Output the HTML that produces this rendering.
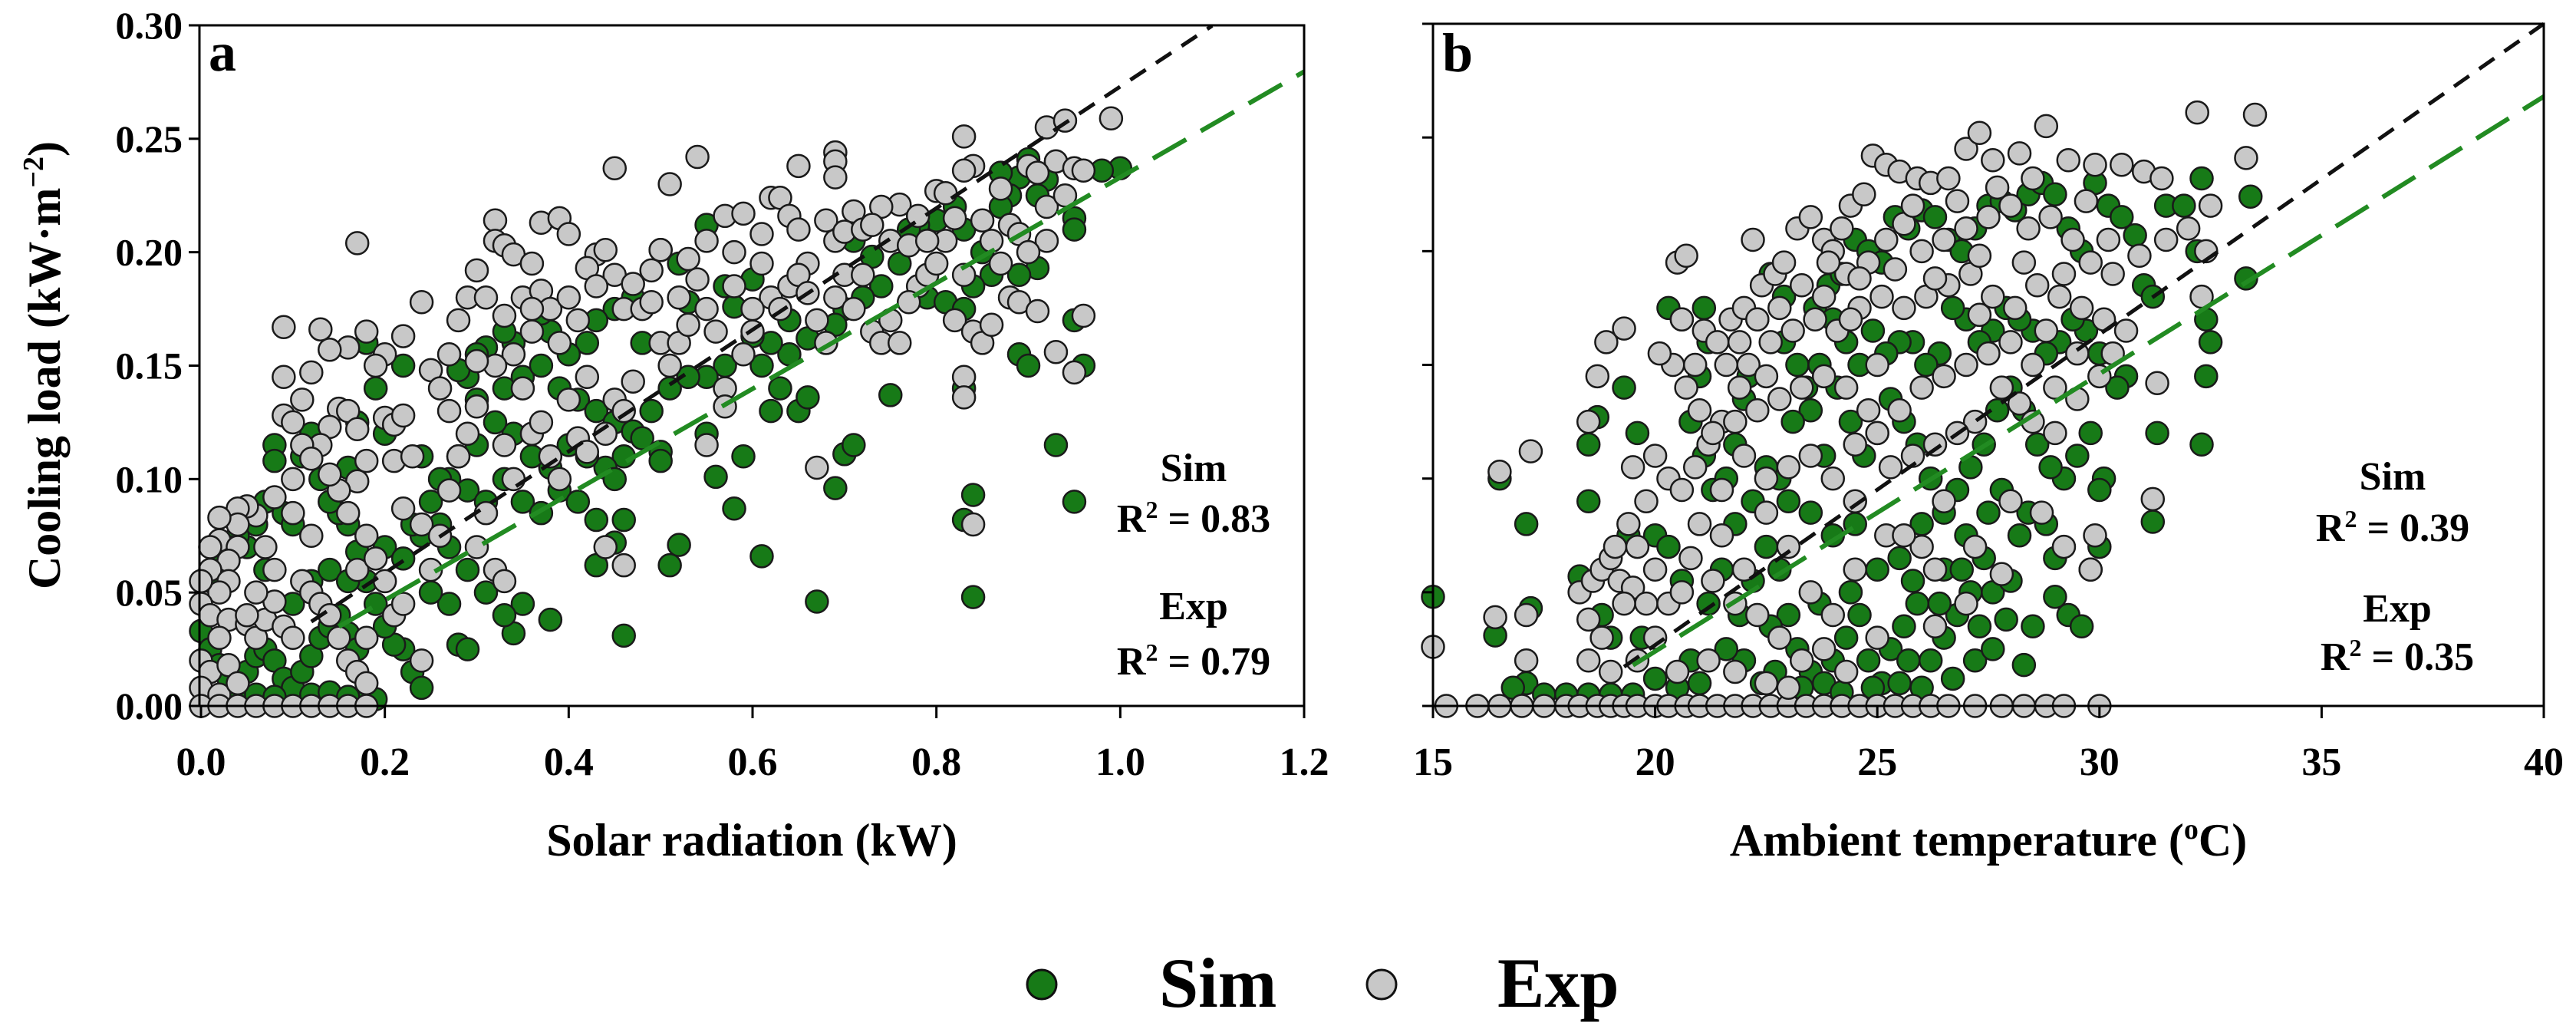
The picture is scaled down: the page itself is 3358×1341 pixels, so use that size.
<!DOCTYPE html>
<html><head><meta charset="utf-8"><style>
html,body{margin:0;padding:0;background:#fff}
svg{display:block}
text{font-family:"Liberation Serif",serif;font-weight:bold;fill:#000}
</style></head><body>
<svg id="chart" xmlns="http://www.w3.org/2000/svg" width="3358" height="1341" viewBox="0 0 3358 1341">
<g id="pa"></g>
<g id="pb"></g>
<g>
<circle cx="1358" cy="1283" r="19" fill="#177a17" stroke="#111" stroke-width="3"/>
<text x="1511" y="1312" font-size="92">Sim</text>
<circle cx="1801" cy="1283" r="19" fill="#c8c8c8" stroke="#111" stroke-width="3"/>
<text x="1952" y="1312" font-size="92">Exp</text>
</g>
</svg>
<script>
const aTicksX=[0,0.2,0.4,0.6,0.8,1.0,1.2];
const aTickLabelsX=["0.0","0.2","0.4","0.6","0.8","1.0","1.2"];
const yTicks=[0,0.05,0.10,0.15,0.20,0.25,0.30];
const yTickLabels=["0.00","0.05","0.10","0.15","0.20","0.25","0.30"];
const bTicksX=[15,20,25,30,35,40];
const bTickLabelsX=["15","20","25","30","35","40"];
const aFitSim=[0.005,0.268,0.12,1.10];
const aFitExp=[0.0,0.233,0.15,1.2];
const bFitSim=[-0.2464,0.01366,19.3,40];
const bFitExp=[-0.2200,0.0122,19.5,40];
const aSim=[[1.0,0.237],[0.98,0.236],[0.95,0.215],[0.95,0.210],[0.96,0.150],[0.95,0.170],[0.93,0.240],[0.92,0.232],[0.90,0.241],[0.89,0.233],[0.88,0.225],[0.87,0.220],[0.91,0.193],[0.89,0.190],[0.86,0.190],[0.85,0.200],[0.83,0.210],[0.82,0.220],[0.80,0.214],[0.78,0.212],[0.77,0.210],[0.79,0.180],[0.81,0.178],[0.83,0.175],[0.84,0.185],[0.89,0.155],[0.90,0.150],[0.83,0.140],[0.93,0.115],[0.84,0.093],[0.83,0.082],[0.84,0.048],[0.95,0.090],[0.76,0.195],[0.74,0.185],[0.72,0.180],[0.70,0.175],[0.69,0.168],[0.68,0.160],[0.66,0.162],[0.64,0.155],[0.62,0.160],[0.60,0.163],[0.61,0.150],[0.63,0.140],[0.65,0.130],[0.66,0.136],[0.62,0.130],[0.57,0.150],[0.55,0.145],[0.57,0.185],[0.58,0.176],[0.60,0.188],[0.55,0.212],[0.52,0.195],[0.50,0.201],[0.47,0.180],[0.45,0.175],[0.43,0.170],[0.42,0.160],[0.40,0.155],[0.38,0.165],[0.37,0.173],[0.34,0.160],[0.33,0.165],[0.31,0.158],[0.30,0.155],[0.29,0.145],[0.28,0.148],[0.30,0.135],[0.33,0.140],[0.35,0.145],[0.37,0.150],[0.39,0.140],[0.41,0.135],[0.43,0.130],[0.45,0.125],[0.47,0.121],[0.49,0.130],[0.51,0.140],[0.53,0.145],[0.55,0.120],[0.50,0.112],[0.48,0.118],[0.46,0.110],[0.44,0.105],[0.42,0.110],[0.40,0.115],[0.38,0.105],[0.36,0.110],[0.34,0.120],[0.32,0.125],[0.30,0.115],[0.28,0.110],[0.27,0.100],[0.29,0.095],[0.31,0.090],[0.33,0.100],[0.35,0.090],[0.37,0.085],[0.39,0.095],[0.41,0.090],[0.43,0.082],[0.45,0.100],[0.46,0.082],[0.45,0.072],[0.43,0.062],[0.46,0.031],[0.51,0.062],[0.52,0.071],[0.56,0.101],[0.58,0.087],[0.59,0.110],[0.61,0.066],[0.67,0.046],[0.69,0.096],[0.70,0.111],[0.71,0.115],[0.75,0.137],[0.50,0.108],[0.38,0.038],[0.35,0.045],[0.34,0.032],[0.33,0.040],[0.31,0.050],[0.29,0.060],[0.28,0.027],[0.29,0.025],[0.27,0.045],[0.25,0.050],[0.23,0.015],[0.24,0.008],[0.22,0.025],[0.21,0.027],[0.20,0.035],[0.19,0.045],[0.18,0.055],[0.17,0.068],[0.16,0.080],[0.15,0.085],[0.14,0.090],[0.13,0.100],[0.12,0.120],[0.11,0.110],[0.08,0.115],[0.08,0.108],[0.07,0.090],[0.06,0.080],[0.07,0.060],[0.05,0.070],[0.04,0.075],[0.03,0.070],[0.02,0.065],[0.01,0.055],[0.00,0.033],[0.01,0.025],[0.02,0.018],[0.03,0.012],[0.04,0.005],[0.05,0.015],[0.06,0.022],[0.07,0.025],[0.08,0.020],[0.09,0.012],[0.10,0.008],[0.11,0.015],[0.12,0.022],[0.13,0.030],[0.14,0.035],[0.15,0.040],[0.16,0.032],[0.17,0.025],[0.18,0.005],[0.19,0.003],[0.10,0.045],[0.12,0.055],[0.14,0.060],[0.16,0.055],[0.20,0.070],[0.22,0.065],[0.24,0.075],[0.23,0.080],[0.25,0.090],[0.26,0.080],[0.27,0.070],[0.19,0.140],[0.20,0.120],[0.18,0.160],[0.22,0.150],[0.17,0.125],[0.16,0.105],[0.09,0.085],[0.10,0.080],[0.06,0.005],[0.08,0.004],[0.12,0.005],[0.14,0.006],[0.16,0.004],[0.64,0.170],[0.71,0.205],[0.73,0.198],[0.87,0.235],[0.91,0.225],[0.53,0.178],[0.48,0.160],[0.26,0.100],[0.24,0.110]];
const aExp=[[0.99,0.259],[0.92,0.255],[0.94,0.258],[0.83,0.251],[0.54,0.242],[0.45,0.237],[0.69,0.244],[0.69,0.240],[0.69,0.233],[0.65,0.238],[0.51,0.230],[0.84,0.238],[0.83,0.236],[0.93,0.240],[0.90,0.238],[0.91,0.235],[0.95,0.237],[0.96,0.236],[0.62,0.224],[0.63,0.224],[0.80,0.227],[0.81,0.226],[0.76,0.221],[0.74,0.220],[0.71,0.218],[0.68,0.214],[0.64,0.216],[0.65,0.210],[0.57,0.216],[0.59,0.217],[0.32,0.214],[0.37,0.213],[0.39,0.215],[0.40,0.208],[0.32,0.205],[0.33,0.203],[0.17,0.204],[0.43,0.199],[0.44,0.201],[0.34,0.199],[0.36,0.195],[0.30,0.192],[0.42,0.193],[0.45,0.190],[0.47,0.186],[0.50,0.201],[0.53,0.197],[0.55,0.205],[0.58,0.200],[0.61,0.208],[0.66,0.195],[0.69,0.205],[0.70,0.209],[0.72,0.210],[0.75,0.205],[0.77,0.203],[0.78,0.216],[0.82,0.215],[0.85,0.214],[0.88,0.212],[0.89,0.208],[0.92,0.205],[0.90,0.200],[0.87,0.195],[0.88,0.180],[0.89,0.178],[0.91,0.174],[0.93,0.156],[0.95,0.147],[0.96,0.172],[0.83,0.190],[0.82,0.170],[0.84,0.165],[0.85,0.160],[0.86,0.168],[0.83,0.145],[0.83,0.136],[0.84,0.080],[0.24,0.178],[0.29,0.180],[0.28,0.170],[0.31,0.180],[0.33,0.172],[0.35,0.180],[0.37,0.183],[0.38,0.175],[0.40,0.180],[0.41,0.170],[0.39,0.160],[0.36,0.165],[0.34,0.155],[0.32,0.150],[0.30,0.152],[0.27,0.155],[0.25,0.148],[0.22,0.163],[0.20,0.155],[0.19,0.150],[0.18,0.165],[0.16,0.158],[0.14,0.157],[0.12,0.147],[0.13,0.166],[0.09,0.167],[0.09,0.145],[0.15,0.131],[0.16,0.130],[0.17,0.122],[0.14,0.123],[0.13,0.115],[0.11,0.115],[0.12,0.109],[0.10,0.100],[0.09,0.128],[0.10,0.125],[0.20,0.127],[0.21,0.124],[0.22,0.128],[0.21,0.108],[0.18,0.108],[0.17,0.099],[0.15,0.095],[0.14,0.102],[0.08,0.092],[0.06,0.084],[0.05,0.088],[0.04,0.087],[0.04,0.080],[0.02,0.083],[0.02,0.073],[0.04,0.070],[0.03,0.064],[0.01,0.060],[0.03,0.055],[0.02,0.050],[0.00,0.045],[0.01,0.040],[0.03,0.038],[0.05,0.036],[0.06,0.030],[0.02,0.030],[0.00,0.020],[0.01,0.015],[0.03,0.018],[0.00,0.008],[0.02,0.005],[0.04,0.010],[0.07,0.038],[0.08,0.046],[0.09,0.035],[0.10,0.030],[0.11,0.055],[0.12,0.050],[0.13,0.045],[0.14,0.040],[0.15,0.030],[0.16,0.020],[0.17,0.015],[0.18,0.010],[0.18,0.030],[0.17,0.060],[0.18,0.075],[0.20,0.055],[0.21,0.040],[0.22,0.087],[0.24,0.080],[0.26,0.075],[0.25,0.060],[0.27,0.095],[0.28,0.110],[0.29,0.120],[0.30,0.132],[0.31,0.085],[0.30,0.070],[0.32,0.060],[0.33,0.055],[0.34,0.100],[0.35,0.140],[0.36,0.120],[0.37,0.125],[0.38,0.110],[0.39,0.100],[0.41,0.118],[0.42,0.112],[0.44,0.120],[0.45,0.135],[0.46,0.130],[0.47,0.143],[0.46,0.175],[0.48,0.175],[0.49,0.178],[0.50,0.160],[0.51,0.150],[0.52,0.160],[0.53,0.168],[0.55,0.175],[0.56,0.165],[0.57,0.140],[0.58,0.185],[0.59,0.155],[0.60,0.165],[0.62,0.180],[0.63,0.175],[0.64,0.185],[0.65,0.190],[0.67,0.170],[0.68,0.160],[0.69,0.180],[0.70,0.190],[0.71,0.175],[0.73,0.165],[0.74,0.160],[0.75,0.170],[0.76,0.160],[0.78,0.185],[0.79,0.190],[0.80,0.195],[0.81,0.205],[0.55,0.115],[0.57,0.132],[0.46,0.062],[0.44,0.070],[0.67,0.105],[0.24,0.020],[0.22,0.045],[0.19,0.065],[0.16,0.085],[0.12,0.075],[0.10,0.085],[0.08,0.060],[0.06,0.050],[0.05,0.040],[0.00,0],[0.02,0],[0.04,0],[0.06,0],[0.08,0],[0.10,0],[0.12,0],[0.14,0],[0.16,0],[0.18,0],[0.36,0.175],[0.43,0.185],[0.49,0.192],[0.54,0.188],[0.61,0.195],[0.66,0.182],[0.72,0.190],[0.77,0.178],[0.79,0.205],[0.86,0.205],[0.92,0.220],[0.94,0.225],[0.87,0.228],[0.73,0.212],[0.60,0.175],[0.52,0.180],[0.42,0.145],[0.40,0.135],[0.33,0.115],[0.27,0.130],[0.23,0.110],[0.26,0.140],[0.11,0.135],[0.07,0.070],[0.01,0.070],[0.00,0.055]];
const bSim=[[15.0,0.048],[16.4,0.031],[16.5,0.100],[17.1,0.080],[17.2,0.043],[17.1,0.010],[16.8,0.008],[17.5,0.005],[18.3,0.057],[18.5,0.115],[18.7,0.127],[18.5,0.090],[18.8,0.040],[19.0,0.030],[19.3,0.140],[19.6,0.120],[19.4,0.075],[19.7,0.030],[20.0,0.075],[20.3,0.070],[20.6,0.055],[20.3,0.175],[20.6,0.170],[21.1,0.175],[21.2,0.160],[21.0,0.145],[20.8,0.125],[21.1,0.110],[21.3,0.095],[21.6,0.100],[21.8,0.115],[22.0,0.135],[22.3,0.170],[22.6,0.190],[22.9,0.180],[22.1,0.145],[21.8,0.080],[21.5,0.060],[21.2,0.045],[21.9,0.040],[22.2,0.055],[22.5,0.070],[22.8,0.060],[23.0,0.040],[23.2,0.025],[23.5,0.015],[23.8,0.010],[24.0,0.020],[24.3,0.030],[24.6,0.040],[24.8,0.020],[25.1,0.010],[25.3,0.025],[25.6,0.035],[25.9,0.045],[26.2,0.020],[26.5,0.030],[26.8,0.040],[27.1,0.050],[27.3,0.035],[27.6,0.050],[28.2,0.075],[28.3,0.018],[28.0,0.055],[28.4,0.085],[28.8,0.080],[29.0,0.065],[29.3,0.040],[29.6,0.035],[29.8,0.060],[30.0,0.070],[30.1,0.100],[29.8,0.120],[29.5,0.110],[29.2,0.100],[28.9,0.105],[28.6,0.115],[28.3,0.130],[28.0,0.140],[27.7,0.130],[27.4,0.115],[27.1,0.105],[26.8,0.095],[26.5,0.085],[26.2,0.100],[25.9,0.115],[25.6,0.125],[25.3,0.135],[25.0,0.120],[24.7,0.110],[24.4,0.125],[24.1,0.140],[23.8,0.110],[23.5,0.130],[23.2,0.150],[22.9,0.160],[23.6,0.175],[23.9,0.185],[24.2,0.190],[24.5,0.205],[24.8,0.200],[25.1,0.195],[25.4,0.215],[25.7,0.210],[26.0,0.218],[26.3,0.215],[26.6,0.205],[26.9,0.200],[27.2,0.210],[27.5,0.220],[27.8,0.222],[28.1,0.218],[28.4,0.225],[28.7,0.230],[29.0,0.225],[29.3,0.210],[29.6,0.200],[29.9,0.230],[30.2,0.220],[30.5,0.215],[30.8,0.207],[31.0,0.185],[31.2,0.180],[31.5,0.220],[31.9,0.220],[32.3,0.232],[32.2,0.200],[32.4,0.170],[32.5,0.160],[32.4,0.145],[32.3,0.115],[33.3,0.188],[33.4,0.224],[31.3,0.120],[31.2,0.081],[30.6,0.145],[30.4,0.140],[30.0,0.155],[29.7,0.165],[29.4,0.170],[29.1,0.160],[28.8,0.155],[28.5,0.165],[28.2,0.170],[27.9,0.175],[27.6,0.165],[27.3,0.160],[27.0,0.170],[26.7,0.175],[26.4,0.155],[26.1,0.150],[25.8,0.160],[25.5,0.160],[25.2,0.155],[24.9,0.165],[24.6,0.150],[24.3,0.160],[24.0,0.170],[23.7,0.150],[23.4,0.140],[23.1,0.125],[22.8,0.100],[22.5,0.105],[22.2,0.090],[22.0,0.020],[22.4,0.010],[21.0,0.010],[20.5,0.008],[20.0,0.012],[19.5,0.005],[19.0,0.005],[18.5,0.005],[18.0,0.005],[25.0,0.060],[25.5,0.065],[26.0,0.080],[26.5,0.060],[27.0,0.075],[27.5,0.085],[24.5,0.080],[24.0,0.075],[23.5,0.085],[23.0,0.090],[27.8,0.095],[28.5,0.035],[30.0,0.095],[29.0,0.048],[27.9,0.038],[22.7,0.015],[23.3,0.008],[24.2,0.006],[24.9,0.008],[25.5,0.010],[26.0,0.008],[26.7,0.012],[27.2,0.020],[27.6,0.025],[26.4,0.045],[25.8,0.055],[24.4,0.050],[23.7,0.045],[22.6,0.035],[21.6,0.025],[20.8,0.020],[25.7,0.020],[26.9,0.060],[27.4,0.065]];
const bExp=[[15.3,0],[16,0],[16.5,0],[17,0],[17.5,0],[18,0],[18.3,0],[18.7,0],[19,0],[19.3,0],[19.6,0],[20,0],[20.3,0],[20.7,0],[21,0],[21.4,0],[21.8,0],[22.2,0],[22.6,0],[23,0],[23.4,0],[23.8,0],[24.2,0],[24.6,0],[25,0],[25.4,0],[25.8,0],[26.2,0],[26.6,0],[27.2,0],[27.8,0],[28.3,0],[28.8,0],[29.2,0],[30,0],[15,0.026],[16.4,0.039],[16.5,0.103],[17.1,0.040],[17.2,0.112],[17.1,0.020],[18.5,0.125],[18.7,0.145],[19.3,0.166],[18.9,0.160],[18.5,0.038],[18.3,0.050],[18.6,0.055],[18.8,0.060],[19.0,0.065],[19.2,0.055],[19.5,0.052],[19.8,0.045],[19.3,0.045],[18.8,0.030],[18.5,0.020],[19.0,0.015],[19.6,0.020],[20.0,0.030],[20.3,0.045],[20.6,0.050],[19.1,0.070],[19.4,0.080],[19.8,0.090],[19.5,0.105],[20.0,0.110],[20.3,0.100],[20.6,0.095],[20.9,0.105],[21.2,0.115],[21.5,0.125],[21.0,0.130],[20.7,0.140],[20.4,0.150],[20.1,0.155],[20.6,0.170],[20.5,0.195],[20.7,0.198],[21.1,0.165],[21.4,0.160],[21.7,0.170],[22.0,0.175],[22.2,0.205],[22.4,0.185],[22.7,0.190],[22.9,0.195],[23.2,0.210],[23.5,0.215],[23.8,0.205],[24.0,0.200],[24.2,0.210],[24.4,0.220],[24.7,0.225],[24.9,0.242],[25.2,0.238],[25.5,0.235],[25.9,0.232],[26.2,0.230],[26.6,0.232],[27.0,0.245],[27.3,0.252],[27.6,0.240],[28.2,0.243],[28.8,0.255],[29.3,0.240],[29.9,0.238],[30.5,0.238],[31.0,0.235],[31.4,0.232],[32.2,0.261],[33.5,0.260],[33.3,0.241],[32.5,0.220],[32.4,0.200],[32.0,0.210],[31.5,0.205],[30.9,0.198],[30.3,0.190],[29.8,0.195],[29.4,0.205],[28.9,0.215],[28.4,0.210],[28.0,0.220],[27.5,0.215],[27.0,0.210],[26.5,0.205],[26.0,0.200],[25.6,0.212],[25.2,0.205],[24.8,0.195],[24.3,0.190],[23.8,0.180],[23.3,0.185],[22.8,0.175],[22.3,0.170],[21.9,0.160],[21.6,0.150],[22.1,0.150],[22.6,0.160],[23.1,0.165],[23.6,0.170],[24.1,0.165],[24.6,0.175],[25.1,0.180],[25.6,0.175],[26.1,0.180],[26.6,0.185],[27.1,0.190],[27.6,0.180],[28.1,0.175],[28.6,0.185],[29.1,0.180],[29.6,0.175],[30.1,0.170],[30.6,0.165],[32.3,0.180],[31.3,0.142],[31.2,0.091],[29.8,0.060],[29.9,0.075],[29.2,0.070],[28.7,0.085],[28.0,0.090],[27.8,0.140],[27.2,0.125],[26.8,0.120],[26.3,0.115],[25.8,0.110],[25.3,0.105],[24.8,0.130],[24.3,0.140],[23.8,0.145],[23.3,0.140],[22.8,0.135],[22.3,0.130],[21.8,0.125],[21.3,0.120],[22.0,0.110],[22.5,0.100],[23.0,0.105],[23.5,0.110],[24.0,0.100],[24.5,0.115],[25.0,0.120],[25.5,0.130],[26.0,0.140],[26.5,0.145],[27.0,0.150],[27.5,0.155],[28.0,0.160],[28.5,0.150],[29.0,0.140],[29.5,0.135],[30.0,0.145],[29.5,0.155],[29.0,0.120],[28.5,0.125],[28.2,0.133],[26.5,0.090],[26.0,0.070],[26.3,0.060],[25.2,0.075],[25.6,0.075],[27.2,0.070],[27.0,0.045],[27.8,0.058],[26.3,0.035],[24.5,0.060],[24.0,0.040],[23.5,0.050],[23.0,0.070],[22.5,0.085],[22.0,0.060],[21.5,0.075],[21.0,0.080],[20.8,0.065],[21.3,0.055],[21.8,0.045],[22.3,0.040],[22.8,0.030],[23.3,0.020],[23.8,0.025],[24.3,0.015],[25.0,0.030],[20.5,0.015],[21.2,0.020],[21.8,0.015],[22.5,0.010],[23.0,0.008],[24.5,0.090],[25.0,0.150],[20.0,0.060],[19.6,0.070],[21.5,0.095],[23.9,0.195],[24.6,0.188],[25.4,0.192],[26.3,0.188],[27.3,0.198],[28.3,0.195],[29.2,0.190],[30.2,0.205],[29.7,0.222],[28.5,0.232],[27.7,0.228],[26.8,0.222],[25.8,0.220],[24.4,0.170],[22.5,0.145],[21.9,0.140],[20.9,0.150],[27.3,0.172],[28.8,0.165],[30.3,0.155]];

const NS="http://www.w3.org/2000/svg";
function mk(parent,tag,attrs,txt){const e=document.createElementNS(NS,tag);for(const k in attrs)e.setAttribute(k,attrs[k]);if(txt!==undefined)e.textContent=txt;parent.appendChild(e);return e;}
function panel(g,cfg){
  const sx=v=>cfg.px0+(v-cfg.x0)/(cfg.x1-cfg.x0)*(cfg.px1-cfg.px0);
  const sy=v=>cfg.pyb-(v-0)/0.30*(cfg.pyb-cfg.pyt);
  const L=cfg.left, R=cfg.px1, T=cfg.pyt, B=cfg.pyb;
  const drawFit=(f,color,w,dash,name)=>{
    const l=mk(g,'line',{x1:sx(f[2]),y1:sy(f[0]+f[1]*f[2]),x2:sx(f[3]),y2:sy(f[0]+f[1]*f[3]),stroke:color,'stroke-width':w,'stroke-dasharray':dash});
    
    
  };
  const drawPts=(arr,fill,name)=>{
    const pg=mk(g,'g',{});
    
    
    arr.forEach(p=>{
      const c=mk(pg,'circle',{cx:sx(p[0]),cy:sy(p[1]),r:14.5,fill:fill,stroke:'#1a1a1a','stroke-width':2.5});
      
      
    });
  };
  drawPts(cfg.sim,'#177a17','sim-points');
  drawPts(cfg.exp,'#c8c8c8','exp-points');
  drawFit(cfg.fitSim,'#111',5,'24 16','sim-fit-line');
  drawFit(cfg.fitExp,'#228b22',6,'50 22','exp-fit-line');
  const fr=mk(g,'rect',{x:L,y:T,width:R-L,height:B-T,fill:'none',stroke:'#000','stroke-width':3});
  
  
  yTicks.forEach((v,i)=>{
    const t=mk(g,'line',{x1:L-14,x2:L,y1:sy(v),y2:sy(v),stroke:'#000','stroke-width':3});
    
    
    if(cfg.yLabels){
      const tx=mk(g,'text',{x:L-22,y:sy(v)+17,'font-size':50,'text-anchor':'end'},yTickLabels[i]);
      
      
    }
  });
  cfg.ticks.forEach((v,i)=>{
    const t=mk(g,'line',{x1:sx(v),x2:sx(v),y1:B,y2:B+16,stroke:'#000','stroke-width':3});
    
    
    const tx=mk(g,'text',{x:sx(v),y:1010,'font-size':52,'text-anchor':'middle'},cfg.tickLabels[i]);
    
    
  });
}
const pa=document.getElementById('pa'), pb=document.getElementById('pb');
panel(pa,{left:260,px0:262,px1:1700,x0:0,x1:1.2,pyt:33,pyb:920,sim:aSim,exp:aExp,fitSim:aFitSim,fitExp:aFitExp,ticks:aTicksX,tickLabels:aTickLabelsX,yLabels:true});
panel(pb,{left:1868,px0:1868,px1:3316,x0:15,x1:40,pyt:31,pyb:920,sim:bSim,exp:bExp,fitSim:bFitSim,fitExp:bFitExp,ticks:bTicksX,tickLabels:bTickLabelsX,yLabels:false});
</script>
<svg style="position:absolute;left:0;top:0" width="3358" height="1341" xmlns="http://www.w3.org/2000/svg">
<text x="272" y="92" font-size="72" style="font-family:'Liberation Serif',serif;font-weight:bold">a</text>
<text x="1880" y="93" font-size="72" style="font-family:'Liberation Serif',serif;font-weight:bold">b</text>
<text transform="translate(78,476) rotate(-90)" text-anchor="middle" font-size="60" style="font-family:'Liberation Serif',serif;font-weight:bold">Cooling load (kW·m<tspan dy="-22" font-size="38">−2</tspan><tspan dy="22">)</tspan></text>
<text x="980" y="1115" text-anchor="middle" font-size="60" style="font-family:'Liberation Serif',serif;font-weight:bold">Solar radiation (kW)</text>
<text x="2592" y="1115" text-anchor="middle" font-size="60" style="font-family:'Liberation Serif',serif;font-weight:bold">Ambient temperature (<tspan dy="-22" font-size="38">o</tspan><tspan dy="22">C)</tspan></text>
<g style="font-family:'Liberation Serif',serif;font-weight:bold" font-size="52" text-anchor="middle">
<text x="1556" y="627">Sim</text>
<text x="1556" y="693">R<tspan dy="-18" font-size="32">2</tspan><tspan dy="18"> = 0.83</tspan></text>
<text x="1556" y="807">Exp</text>
<text x="1556" y="879">R<tspan dy="-18" font-size="32">2</tspan><tspan dy="18"> = 0.79</tspan></text>
<text x="3119" y="638">Sim</text>
<text x="3119" y="705">R<tspan dy="-18" font-size="32">2</tspan><tspan dy="18"> = 0.39</tspan></text>
<text x="3125" y="810">Exp</text>
<text x="3125" y="873">R<tspan dy="-18" font-size="32">2</tspan><tspan dy="18"> = 0.35</tspan></text>
</g>
</svg>
</body></html>
